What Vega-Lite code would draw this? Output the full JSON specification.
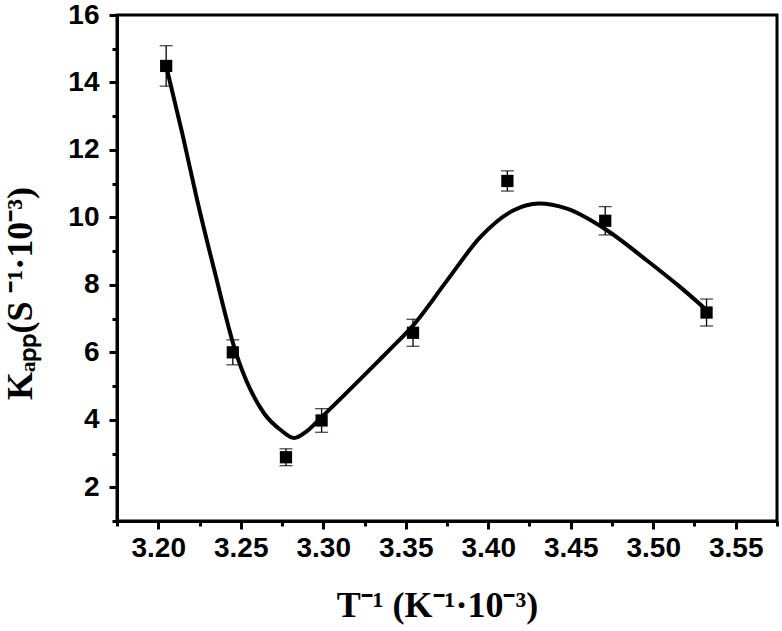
{
  "$schema": "https://vega.github.io/schema/vega-lite/v6.json",
  "width": 660,
  "height": 506,
  "autosize": "none",
  "padding": {"left": 117, "top": 15, "right": 5, "bottom": 110},
  "background": "white",
  "config": {
    "view": {"stroke": "black", "strokeWidth": 3},
    "axis": {
      "grid": false,
      "domainColor": "black",
      "domainWidth": 3,
      "tickColor": "black",
      "tickWidth": 3,
      "labelColor": "black",
      "labelFont": "Liberation Sans",
      "labelFontWeight": "bold",
      "labelFontSize": 28,
      "titleColor": "black",
      "titleFont": "Liberation Serif",
      "titleFontWeight": "bold",
      "titleFontSize": 36
    },
    "axisY": {"titleY": 278, "titleX": -86, "titleAlign": "center", "titleAngle": -90, "titleBaseline": "alphabetic"},
    "axisBottom": {"titleX": 320}
  },
  "datasets": {
    "points": [
      {"x": 3.2048, "k": 14.49, "err": 0.6},
      {"x": 3.2452, "k": 6.0, "err": 0.37},
      {"x": 3.2774, "k": 2.89, "err": 0.25},
      {"x": 3.299, "k": 3.98, "err": 0.35},
      {"x": 3.3544, "k": 6.58, "err": 0.4},
      {"x": 3.4116, "k": 11.08, "err": 0.3},
      {"x": 3.4709, "k": 9.9, "err": 0.42},
      {"x": 3.5323, "k": 7.18, "err": 0.4}
    ],
    "curve": [
      {"x": 3.2048, "k": 14.49},
      {"x": 3.2145, "k": 12.5},
      {"x": 3.2236, "k": 10.51},
      {"x": 3.234, "k": 8.43},
      {"x": 3.2472, "k": 5.97},
      {"x": 3.2643, "k": 4.18},
      {"x": 3.2744, "k": 3.69},
      {"x": 3.2824, "k": 3.46},
      {"x": 3.2895, "k": 3.64},
      {"x": 3.299, "k": 4.08},
      {"x": 3.3348, "k": 5.81},
      {"x": 3.3409, "k": 6.11},
      {"x": 3.354, "k": 6.77},
      {"x": 3.3752, "k": 8.14},
      {"x": 3.3953, "k": 9.42},
      {"x": 3.4154, "k": 10.21},
      {"x": 3.4305, "k": 10.41},
      {"x": 3.4477, "k": 10.26},
      {"x": 3.4719, "k": 9.62},
      {"x": 3.496, "k": 8.73},
      {"x": 3.5162, "k": 7.94},
      {"x": 3.5313, "k": 7.3}
    ]
  },
  "layer": [
    {
      "data": {"name": "curve"},
      "mark": {"type": "line", "interpolate": "monotone", "color": "black", "strokeWidth": 4},
      "encoding": {
        "x": {
          "field": "x", "type": "quantitative",
          "scale": {"domain": [3.175, 3.575], "nice": false, "zero": false},
          "axis": {
            "orient": "bottom",
            "values": [3.2, 3.25, 3.3, 3.35, 3.4, 3.45, 3.5, 3.55],
            "format": ".2f",
            "tickSize": 8,
            "labelPadding": 5,
            "title": "T⁻¹ (K⁻¹·10⁻³)",
            "titlePadding": 26
          }
        },
        "y": {
          "field": "k", "type": "quantitative",
          "scale": {"domain": [1, 16], "nice": false, "zero": false},
          "axis": {
            "orient": "left",
            "values": [2, 4, 6, 8, 10, 12, 14, 16],
            "format": "d",
            "tickSize": 8,
            "labelPadding": 10,
            "title": "Kₐₚₚ(S ⁻¹·10⁻³)"
          }
        }
      }
    },
    {
      "data": {"name": "points"},
      "mark": {"type": "errorbar", "ticks": {"size": 13, "color": "black", "thickness": 1.3}, "rule": {"color": "black", "strokeWidth": 1.3}},
      "encoding": {
        "x": {"field": "x", "type": "quantitative", "axis": null},
        "y": {"field": "k", "type": "quantitative", "axis": null},
        "yError": {"field": "err"}
      }
    },
    {
      "data": {"name": "points"},
      "mark": {"type": "square", "size": 150, "color": "black", "opacity": 1},
      "encoding": {
        "x": {"field": "x", "type": "quantitative", "axis": null},
        "y": {"field": "k", "type": "quantitative", "axis": null}
      }
    },
    {
      "data": {"name": "points"},
      "mark": {"type": "point", "opacity": 0},
      "encoding": {
        "x": {
          "field": "x", "type": "quantitative",
          "axis": {
            "orient": "bottom",
            "values": [3.175, 3.225, 3.275, 3.325, 3.375, 3.425, 3.475, 3.525, 3.575],
            "labels": false, "domain": false, "tickSize": 5, "title": null
          }
        },
        "y": {
          "field": "k", "type": "quantitative",
          "axis": {
            "orient": "left",
            "values": [1, 3, 5, 7, 9, 11, 13, 15],
            "labels": false, "domain": false, "tickSize": 5, "title": null
          }
        }
      }
    }
  ],
  "resolve": {"axis": {"x": "independent", "y": "independent"}}
}
